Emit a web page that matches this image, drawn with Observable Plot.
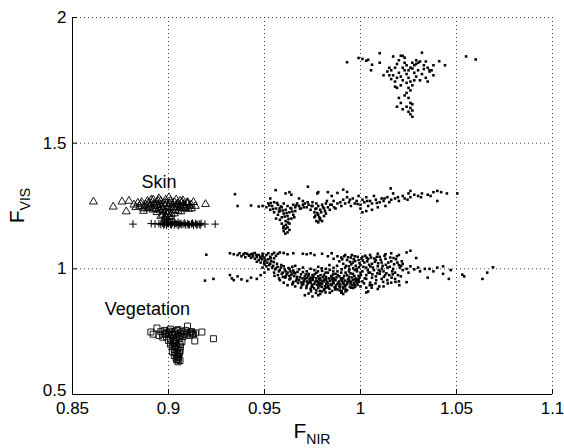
<!DOCTYPE html>
<html><head><meta charset="utf-8">
<script src="https://cdn.jsdelivr.net/npm/d3@7"></script>
<script src="https://cdn.jsdelivr.net/npm/@observablehq/plot@0.6"></script>
<style>body{margin:0;background:#fff} #chart{width:564px;height:448px}</style>
</head><body><div id="chart"></div>
<script>
const xTicks = [0.85, 0.9, 0.95, 1, 1.05, 1.1];
const yTicks = [0.5, 1, 1.5, 2];
const classLabels = ["Skin", "Vegetation"];
const classLabelX = [0.895, 0.889];
const classLabelY = [1.343, 0.841];

// unlabeled dots, upper cluster
const topDots = [[0.993,1.822],[0.999,1.839],[1.001,1.835],[1.003,1.828],[1.004,1.832],[1.006,1.812],[1.0055,1.79],[1.010,1.858],[1.010,1.82],[1.017,1.845],[1.016,1.79],[1.015,1.77],[1.018,1.80],[1.019,1.815],[1.020,1.83],[1.021,1.848],[1.022,1.847],[1.020,1.78],[1.019,1.76],[1.018,1.745],[1.017,1.77],[1.022,1.80],[1.023,1.82],[1.024,1.81],[1.023,1.79],[1.021,1.765],[1.022,1.75],[1.021,1.73],[1.024,1.775],[1.025,1.76],[1.026,1.80],[1.027,1.82],[1.028,1.81],[1.029,1.815],[1.030,1.82],[1.031,1.825],[1.032,1.86],[1.033,1.81],[1.030,1.79],[1.028,1.78],[1.026,1.745],[1.027,1.73],[1.025,1.72],[1.024,1.70],[1.026,1.71],[1.023,1.69],[1.025,1.68],[1.026,1.66],[1.027,1.655],[1.024,1.645],[1.026,1.64],[1.027,1.63],[1.025,1.625],[1.026,1.615],[1.027,1.605],[1.022,1.635],[1.021,1.66],[1.020,1.68],[1.019,1.645],[1.035,1.80],[1.036,1.785],[1.037,1.79],[1.038,1.77],[1.034,1.76],[1.035,1.745],[1.036,1.79],[1.038,1.81],[1.041,1.826],[1.044,1.81],[1.055,1.845],[1.060,1.833],[1.015,1.80],[1.014,1.785],[1.012,1.77],[1.016,1.755],[1.018,1.725],[1.019,1.72],[1.024,1.74],[1.028,1.75],[1.029,1.765],[1.031,1.75],[1.032,1.775],[1.033,1.795],[1.023,1.84],[1.029,1.83],[1.034,1.825],[1.027,1.797],[1.025,1.79]];

// unlabeled dots, middle band
const midDots = [[0.9346,1.297],[0.936,1.25],[0.943,1.252],[0.947,1.248],[0.949,1.25],
[0.951,1.245],[0.952,1.26],[0.953,1.235],[0.954,1.25],[0.955,1.265],[0.955,1.225],[0.956,1.24],[0.957,1.255],[0.957,1.215],[0.958,1.23],[0.959,1.245],[0.959,1.205],[0.960,1.26],[0.960,1.22],[0.961,1.235],[0.961,1.19],[0.962,1.25],[0.962,1.21],[0.963,1.225],[0.963,1.18],[0.964,1.24],[0.964,1.2],[0.965,1.255],[0.965,1.215],[0.966,1.23],[0.966,1.245],[0.967,1.26],[0.968,1.25],[0.969,1.24],[0.970,1.255],[0.960,1.17],[0.961,1.16],[0.962,1.165],[0.960,1.15],[0.962,1.145],[0.959,1.18],[0.958,1.195],[0.963,1.155],[0.956,1.2],
[0.9558,1.313],[0.961,1.30],[0.963,1.305],[0.964,1.295],[0.9726,1.327],[0.9775,1.30],[0.978,1.305],[0.983,1.305],[0.988,1.302],[0.991,1.315],[0.993,1.306],[0.953,1.28],
[0.971,1.26],[0.972,1.245],[0.973,1.255],[0.974,1.235],[0.975,1.265],[0.975,1.25],[0.976,1.225],[0.977,1.24],[0.977,1.26],[0.978,1.215],[0.978,1.25],[0.979,1.2],[0.979,1.235],[0.980,1.19],[0.980,1.255],[0.981,1.21],[0.981,1.24],[0.982,1.22],[0.982,1.26],[0.983,1.245],[0.976,1.205],[0.977,1.19],[0.978,1.185],
[0.985,1.255],[0.986,1.27],[0.987,1.24],[0.988,1.26],[0.990,1.25],[0.991,1.275],[0.992,1.26],[0.993,1.285],[0.994,1.265],[0.995,1.25],[0.996,1.28],[0.997,1.26],[0.998,1.27],[0.999,1.29],[1.000,1.255],[1.001,1.275],[1.002,1.265],[1.003,1.285],[1.004,1.25],[1.005,1.27],[1.006,1.26],[1.007,1.29],[1.008,1.275],[1.009,1.245],[1.010,1.265],[1.011,1.28],[1.012,1.27],[1.013,1.25],[1.014,1.285],[1.015,1.265],[1.016,1.275],[1.017,1.3],[1.018,1.28],[1.020,1.27],[1.022,1.29],[1.023,1.28],[1.025,1.3],[1.026,1.285],[1.028,1.295],[1.030,1.29],[1.032,1.3],[1.035,1.295],[1.038,1.305],[1.040,1.31],[1.040,1.27],[1.042,1.305],[1.045,1.3],[1.0504,1.30],[1.0157,1.32],[1.026,1.31],[1.003,1.23],[1.001,1.225],[1.006,1.235],[1.0,1.24],
[0.968,1.28],[0.970,1.27],[0.985,1.29],[0.984,1.235],
[0.9525,1.252],[0.9545,1.238],[0.9565,1.262],[0.9575,1.228],[0.9585,1.248],[0.9595,1.232],[0.9605,1.208],[0.9615,1.222],[0.9625,1.198],[0.9635,1.242],[0.9645,1.228],[0.9655,1.205],[0.9665,1.252],[0.9612,1.175],[0.9598,1.162],[0.9622,1.185],[0.9608,1.14],[0.9578,1.24],[0.9532,1.262],[0.9685,1.24],[0.9705,1.245],
[0.9725,1.265],[0.9745,1.25],[0.9765,1.238],[0.9775,1.222],[0.9785,1.205],[0.9795,1.225],[0.9805,1.245],[0.9815,1.23],[0.9825,1.27],[0.9765,1.212],[0.9788,1.195],[0.9842,1.255],[0.9862,1.245],[0.9895,1.265],[0.9945,1.275],[0.9985,1.258],[1.0035,1.27],[1.0085,1.262],[1.0125,1.28],[1.0195,1.285],[1.0245,1.275],[1.0315,1.285],[1.0365,1.29]];

// unlabeled dots, lower band
const lowDots = [[0.9197,1.056],[0.919,0.953],[0.9234,0.96],
[0.932,1.062],[0.934,1.058],[0.936,1.055],[0.937,1.062],[0.938,1.05],[0.939,1.057],[0.940,1.046],[0.941,1.060],[0.942,1.052],[0.943,1.044],[0.943,1.058],[0.944,1.05],[0.945,1.063],[0.945,1.04],[0.946,1.047],[0.947,1.055],[0.947,1.035],[0.948,1.042],[0.949,1.05],[0.949,1.06],[0.950,1.03],[0.950,1.045],[0.951,1.055],[0.952,1.038],[0.952,1.062],[0.953,1.048],[0.954,1.058],[0.955,1.042],[0.955,1.064],[0.956,1.052],[0.957,1.06],[0.958,1.065],[0.960,1.063],[0.962,1.058],[0.965,1.062],[0.970,1.06],[0.974,1.062],[0.948,1.025],[0.950,1.018],[0.951,1.01],[0.949,1.005],[0.952,0.998],[0.953,1.02],[0.954,1.005],[0.946,1.028],
[0.932,0.975],[0.933,0.962],[0.934,0.955],[0.936,0.97],[0.938,0.958],[0.941,0.952],[0.943,0.965],[0.946,0.96],[0.948,0.975],[0.950,0.985],
[0.956,1.002],[0.958,0.995],[0.960,1.01],[0.961,0.99],[0.963,1.0],[0.965,0.993],[0.966,1.012],[0.968,0.998],[0.970,1.005],[0.972,0.99],[0.974,1.0],[0.976,0.995],[0.978,1.008],[0.980,0.992],[0.982,1.0],[0.984,0.996],[0.986,1.004],[0.988,0.99],
[0.955,0.985],[0.957,0.975],[0.959,0.98],[0.961,0.97],[0.962,0.985],[0.964,0.975],[0.966,0.982],[0.967,0.968],[0.969,0.978],[0.970,0.987],[0.971,0.97],[0.973,0.98],[0.974,0.965],[0.975,0.975],[0.977,0.984],[0.978,0.97],[0.979,0.962],[0.981,0.976],[0.982,0.968],[0.983,0.985],[0.985,0.972],[0.986,0.963],[0.987,0.98],[0.989,0.97],[0.990,0.985],[0.991,0.962],[0.993,0.975],[0.994,0.968],[0.996,0.98],[0.997,0.96],[0.999,0.972],
[0.958,0.955],[0.960,0.945],[0.963,0.958],[0.965,0.948],[0.968,0.955],[0.970,0.942],[0.971,0.96],[0.972,0.95],[0.974,0.945],[0.975,0.955],[0.976,0.94],[0.977,0.962],[0.978,0.948],[0.979,0.955],[0.980,0.94],[0.981,0.95],[0.982,0.958],[0.983,0.943],[0.984,0.952],[0.985,0.96],[0.986,0.945],[0.987,0.955],[0.988,0.94],[0.989,0.95],[0.990,0.958],[0.991,0.945],[0.992,0.953],[0.993,0.94],[0.994,0.958],[0.995,0.948],[0.996,0.955],[0.998,0.945],[0.999,0.958],[1.001,0.95],[1.003,0.96],[1.005,0.945],
[0.962,0.935],[0.966,0.93],[0.969,0.925],[0.972,0.932],[0.974,0.92],[0.975,0.93],[0.977,0.915],[0.978,0.925],[0.979,0.935],[0.980,0.91],[0.981,0.92],[0.983,0.928],[0.985,0.935],[0.987,0.925],[0.988,0.918],[0.989,0.932],[0.990,0.912],[0.991,0.922],[0.992,0.93],[0.993,0.915],[0.995,0.925],[0.997,0.935],[1.000,0.93],[1.003,0.925],[1.006,0.935],[1.009,0.92],[1.012,0.93],
[0.971,0.895],[0.973,0.902],[0.975,0.89],[0.978,0.895],[0.979,0.9],[0.984,0.905],[0.990,0.905],[0.991,0.9],[1.003,0.906],[1.004,0.91],
[0.986,1.04],[0.988,1.05],[0.989,1.03],[0.990,1.045],[0.991,1.02],[0.992,1.055],[0.993,1.035],[0.994,1.01],[0.995,1.045],[0.996,1.025],[0.997,1.05],[0.998,1.0],[0.999,1.035],[1.000,1.015],[1.001,1.048],[1.001,0.99],[1.002,1.025],[1.003,1.005],[1.004,1.04],[1.005,0.985],[1.005,1.055],[1.006,1.02],[1.007,0.995],[1.008,1.035],[1.009,1.01],[1.010,1.048],[1.010,0.98],[1.011,1.025],[1.012,0.99],[1.013,1.04],[1.014,1.005],[1.015,0.975],[1.016,1.03],[1.017,1.0],[1.018,0.985],[1.019,1.05],[1.020,1.015],[1.021,0.97],[1.022,0.995],[1.003,0.975],[1.006,0.965],[1.008,0.97],[1.011,0.96],[1.014,0.955],[1.016,0.945],[1.018,0.96],[1.020,0.95],[1.000,0.985],[0.997,0.995],[0.994,0.99],[0.992,1.005],[1.009,1.06],[1.013,1.058],
[0.972,1.058],[0.976,1.055],[0.980,1.06],[0.983,1.05],[0.985,1.062],[1.016,1.062],[1.020,1.055],[1.024,1.065],[1.026,1.072],[1.029,1.043],
[1.022,1.02],[1.024,1.0],[1.025,0.985],[1.026,1.01],[1.024,0.947],[1.028,0.998],[1.030,1.005],[1.031,0.99],[1.0335,1.0],[1.035,0.965],[1.036,1.0],[1.038,0.99],[1.040,1.005],[1.043,1.01],[1.043,0.98],[1.046,0.96],[1.047,0.995],[1.053,0.977],[1.054,0.97],[1.0635,0.96],[1.066,0.985],[1.069,1.006],
[0.9635,0.962],[0.9645,0.938],[0.9655,0.971],[0.9665,0.952],[0.9675,0.944],[0.9685,0.966],[0.9695,0.935],[0.9705,0.951],[0.9715,0.978],[0.9725,0.941],[0.9735,0.958],[0.9745,0.929],[0.9755,0.968],[0.9765,0.949],[0.9775,0.936],[0.9785,0.959],[0.9795,0.944],[0.9805,0.967],[0.9815,0.931],[0.9825,0.949],[0.9835,0.962],[0.9845,0.938],[0.9855,0.952],[0.9865,0.927],[0.9875,0.966],[0.9885,0.946],[0.9895,0.938],[0.9905,0.951],[0.9915,0.972],[0.9925,0.936],[0.9935,0.958],[0.9945,0.929],[0.9955,0.966],[0.9965,0.943],[0.9975,0.952],[0.9985,0.936],[0.9995,0.965],[0.9642,0.981],[0.9668,0.959],[0.9692,0.946],[0.9718,0.924],[0.9738,0.952],[0.9762,0.979],[0.9788,0.933],[0.9812,0.957],[0.9838,0.921],[0.9858,0.943],[0.9882,0.975],[0.9908,0.928],[0.9932,0.947],[0.9958,0.935],[0.9978,0.961],[0.9648,0.944],[0.9672,0.988],[0.9698,0.962],[0.9722,0.963],[0.9748,0.937],[0.9772,0.951],[0.9798,0.928],[0.9822,0.94],[0.9848,0.97],[0.9872,0.934],[0.9898,0.962],[0.9922,0.918],[0.9948,0.941],[0.9972,0.928],[0.9992,0.948],[0.9812,0.916],[0.9852,0.912],[0.9892,0.914],[0.9788,0.912],[0.9902,0.908],[0.9742,0.911],[0.9768,0.904],[0.9818,0.906],[0.9922,0.91],
[0.9505,1.035],[0.9515,1.025],[0.9525,1.015],[0.9535,1.03],[0.9545,1.012],[0.9555,0.998],[0.9565,1.02],[0.9575,0.99],[0.9585,1.005],[0.9595,0.985],[0.9605,0.998],[0.9615,0.978],[0.9625,1.003],[0.9635,0.99],[0.9645,1.008],[0.9655,0.985],[0.9478,1.048],[0.9458,1.055],[0.9438,1.06],[0.9418,1.054],[0.9398,1.062],[0.9488,1.038],[0.9498,1.022],[0.9532,1.042],[0.9548,1.027],[0.9568,1.008],[0.9588,1.015],[0.9608,0.965],[0.9628,0.972],[0.9576,0.962],[0.9596,0.968],[0.9552,0.972],
[0.9905,1.038],[0.9915,1.05],[0.9925,1.012],[0.9935,1.046],[0.9945,1.028],[0.9955,1.055],[0.9965,1.038],[0.9975,1.012],[0.9985,1.048],[0.9995,1.022],[1.0005,1.04],[1.0015,1.008],[1.0025,1.052],[1.0035,1.03],[1.0045,1.016],[1.0055,1.045],[1.0065,1.005],[1.0075,1.028],[1.0085,1.048],[1.0095,0.995],[1.0105,1.036],[1.0115,1.012],[1.0125,1.052],[1.0135,0.982],[1.0145,1.025],[1.0155,1.045],[1.0165,0.99],[1.0175,1.018],[1.0185,1.038],[1.0195,0.975],[1.0205,1.005],[1.0215,1.03],[1.0002,0.975],[1.0022,0.962],[1.0042,0.985],[1.0062,0.978],[1.0082,0.955],[1.0102,0.99],[1.0122,0.968],[1.0142,0.942],[1.0162,0.965],[1.0182,0.948],[1.0202,0.935],[1.0078,0.942],[1.0098,0.93],[1.0118,0.948],[1.0058,0.925],[0.9982,0.99],[0.9962,1.002],[0.9942,0.998],[0.9922,0.985],[0.9902,0.998],[0.9878,1.012],[0.9858,0.99],[0.9838,1.015],[0.9818,0.985],[0.9798,1.002],[0.9778,0.99],
[0.9952,1.018],[0.9972,1.031],[0.9992,1.006],[1.0012,1.033],[1.0032,1.044],[1.0052,1.009],[1.0072,1.041],[1.0092,1.022],[1.0112,1.001],[1.0132,1.016],[1.0152,1.008],[1.0172,1.043],[1.0192,1.025],[1.0212,1.012],[1.0038,0.995],[1.0088,0.982],[1.0128,0.975],[1.0168,0.978],[0.9968,0.972],[0.9948,0.982],
[0.9702,0.939],[0.9732,0.946],[0.9752,0.961],[0.9782,0.942],[0.9802,0.952],[0.9832,0.933],[0.9862,0.958],[0.9892,0.926],[0.9912,0.94],[0.9942,0.951],[0.9962,0.924],[0.9988,0.955],[1.0018,0.942],[1.0048,0.935],[0.9758,0.922],[0.9822,0.925],[0.9868,0.918],[0.9728,0.972],[0.9792,0.975],[0.9858,0.978]];

// Skin samples (triangles) and a second skin-like set (plus signs)
const skinTriangles = [[0.8609,1.267],[0.8712,1.247],[0.8758,1.267],[0.8794,1.27],[0.878,1.228],[0.9193,1.257],[0.9118,1.255],[0.9002,1.284],[0.906,1.27],[0.910,1.265],[0.882,1.255],[0.884,1.262],
[0.885,1.25],[0.886,1.265],[0.887,1.24],[0.888,1.255],[0.889,1.27],[0.890,1.245],[0.891,1.26],[0.892,1.235],[0.892,1.275],[0.893,1.25],[0.894,1.265],[0.894,1.225],[0.895,1.24],[0.896,1.255],[0.896,1.27],[0.897,1.215],[0.897,1.235],[0.898,1.25],[0.899,1.26],[0.899,1.205],[0.900,1.225],[0.900,1.245],[0.901,1.27],[0.901,1.21],[0.902,1.235],[0.902,1.255],[0.903,1.22],[0.903,1.265],[0.904,1.245],[0.905,1.23],[0.905,1.26],[0.906,1.25],[0.907,1.24],[0.907,1.265],[0.908,1.255],[0.909,1.245],[0.910,1.26],[0.911,1.25],[0.912,1.24],[0.913,1.265],[0.914,1.25],[0.898,1.2],[0.896,1.21],[0.889,1.24],[0.891,1.275],[0.895,1.28],[0.904,1.275],[0.883,1.245],[0.887,1.23],
[0.8855,1.258],[0.8875,1.248],[0.8895,1.262],[0.8905,1.252],[0.8915,1.242],[0.8925,1.258],[0.8935,1.238],[0.8945,1.252],[0.8955,1.232],[0.8965,1.245],[0.8975,1.262],[0.8985,1.228],[0.8995,1.24],[0.9005,1.258],[0.9015,1.218],[0.9025,1.245],[0.9035,1.232],[0.9045,1.258],[0.9055,1.242],[0.9065,1.228],[0.9075,1.252],[0.9085,1.24],[0.9095,1.262],[0.9105,1.238],[0.8985,1.212],[0.9005,1.205],[0.8995,1.218],[0.8945,1.272],[0.8985,1.275],[0.9075,1.272]];
const skinPlus = [[0.8815,1.178],[0.891,1.18],[0.893,1.178],[0.895,1.18],[0.896,1.176],[0.897,1.182],[0.898,1.178],[0.899,1.174],[0.900,1.18],[0.901,1.177],[0.902,1.183],[0.903,1.175],[0.904,1.179],[0.905,1.172],[0.906,1.181],[0.907,1.176],[0.908,1.179],[0.909,1.174],[0.910,1.18],[0.911,1.176],[0.912,1.179],[0.913,1.173],[0.914,1.18],[0.915,1.176],[0.916,1.178],[0.917,1.181],[0.919,1.178],[0.9243,1.178],[0.900,1.19],[0.899,1.195],[0.901,1.185],[0.898,1.187],[0.905,1.185],[0.903,1.188],
[0.9015,1.175],[0.9035,1.182],[0.9065,1.178],[0.9085,1.183],[0.9105,1.175],[0.9125,1.182],[0.9145,1.176],[0.9165,1.174],[0.9055,1.176],[0.8995,1.182],[0.8975,1.175]];

// Vegetation samples (squares)
const vegetation = [[0.8908,0.7485],[0.894,0.7644],[0.9099,0.772],[0.9174,0.7485],[0.9234,0.722],[0.9137,0.713],[0.892,0.74],[0.895,0.735],
[0.896,0.75],[0.897,0.74],[0.898,0.755],[0.899,0.73],[0.900,0.745],[0.901,0.76],[0.901,0.72],[0.902,0.735],[0.903,0.75],[0.903,0.71],[0.904,0.725],[0.905,0.74],[0.905,0.758],[0.906,0.73],[0.907,0.75],[0.908,0.74],[0.909,0.755],[0.910,0.745],[0.911,0.735],[0.912,0.75],[0.913,0.74],[0.914,0.745],[0.899,0.748],[0.897,0.728],
[0.901,0.70],[0.902,0.69],[0.903,0.68],[0.904,0.695],[0.902,0.67],[0.904,0.665],[0.903,0.655],[0.905,0.66],[0.904,0.645],[0.905,0.64],[0.906,0.635],[0.905,0.63],[0.903,0.705],[0.905,0.685],[0.906,0.675],[0.900,0.715],[0.906,0.7],[0.907,0.71],
[0.8985,0.742],[0.9005,0.752],[0.9015,0.738],[0.9025,0.725],[0.9035,0.742],[0.9045,0.755],[0.9055,0.722],[0.9065,0.745],[0.9075,0.73],[0.9095,0.74],[0.9115,0.748],[0.9125,0.742],[0.9025,0.705],[0.9035,0.692],[0.9045,0.678],[0.9032,0.668],[0.9048,0.652],[0.9042,0.638],[0.9052,0.648],[0.9058,0.665],[0.9038,0.715],[0.9062,0.69]];

const allDots = topDots.concat(midDots, lowDots);
const X = d => d[0], Y = d => d[1];
const fmt = d => String(d);
const gridStyle = {stroke: "#000", strokeOpacity: 0.75, strokeDasharray: "1,3", strokeWidth: 1};

const plot = Plot.plot({
  width: 564, height: 448,
  marginLeft: 72, marginRight: 12, marginTop: 17, marginBottom: 54,
  style: {fontFamily: "'Liberation Sans', Arial, Helvetica, sans-serif", fontSize: "17px", background: "#fff", color: "#000"},
  x: {domain: [0.85, 1.1]},
  y: {domain: [0.5, 2]},
  marks: [
    Plot.gridX(xTicks.slice(1), gridStyle),
    Plot.gridY(yTicks.slice(1), gridStyle),
    Plot.ruleX([0.85], {stroke: "#000"}),
    Plot.ruleY([0.5], {stroke: "#000"}),
    Plot.ruleX(xTicks, {x: d => d, y1: 0.5, y2: 0.5, insetTop: 0, insetBottom: 5, stroke: "#000"}),
    Plot.ruleY(yTicks, {y: d => d, x1: 0.85, x2: 0.85, insetLeft: 0, insetRight: -5, stroke: "#000"}),
    Plot.axisX(xTicks, {tickSize: 0, tickPadding: 7, tickFormat: fmt, label: null, fontSize: 17}),
    Plot.axisY(yTicks.slice(1), {tickSize: 0, tickPadding: 6, tickFormat: fmt, label: null, fontSize: 17}),
    Plot.axisY(yTicks.slice(0, 1), {tickSize: 0, tickPadding: 6, tickFormat: fmt, label: null, fontSize: 17, dy: -4}),
    Plot.dot(allDots, {x: X, y: Y, symbol: "square", r: 1.45, fill: "#000", stroke: null}),
    Plot.dot(skinTriangles, {x: X, y: Y, symbol: "triangle2", r: 3.8, stroke: "#000", strokeWidth: 0.9, fill: "none"}),
    Plot.dot(skinPlus, {x: X, y: Y, symbol: "plus", r: 2.6, stroke: "#000", strokeWidth: 1}),
    Plot.dot(vegetation, {x: X, y: Y, symbol: "square2", r: 3.8, stroke: "#000", strokeWidth: 0.9, fill: "none"}),
    Plot.text(classLabels, {x: (d, i) => classLabelX[i], y: (d, i) => classLabelY[i], text: d => d, fontSize: 18, fill: "#000"})
  ]
});

// axis titles with subscripts
const sx = plot.scale("x"), sy = plot.scale("y");
const svg = d3.select(plot);
const cx = (sx.apply(0.85) + sx.apply(1.1)) / 2;
const cy = (sy.apply(0.5) + sy.apply(2)) / 2;
const xl = svg.append("text").attr("x", cx).attr("y", 438).attr("text-anchor", "middle")
  .attr("font-size", 21).attr("fill", "#000");
xl.append("tspan").text("F");
xl.append("tspan").attr("font-size", 14).attr("dy", 6).text("NIR");
const yl = svg.append("text").attr("transform", `translate(24,${cy}) rotate(-90)`).attr("text-anchor", "middle")
  .attr("font-size", 21).attr("fill", "#000");
yl.append("tspan").text("F");
yl.append("tspan").attr("font-size", 14).attr("dy", 6).text("VIS");

document.getElementById("chart").append(plot);
</script>
</body></html>
